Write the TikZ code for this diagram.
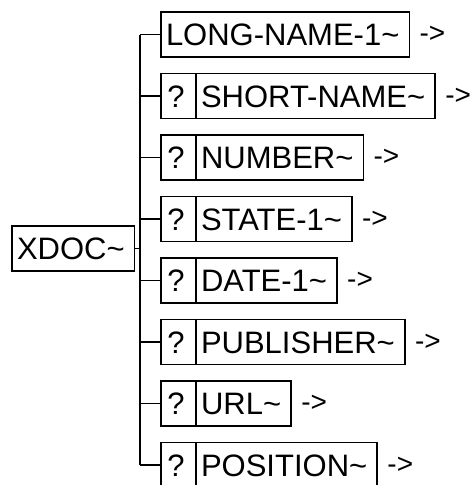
\documentclass[tikz,border=0pt]{standalone}
\usepackage{fontspec}
\setmainfont{Liberation Sans}
\usetikzlibrary{positioning}
\tikzset{
  field/.style={draw, line width=1.5pt, outer sep=0pt, minimum height=45pt, inner xsep=5pt, inner ysep=0pt,
    text height=22.5pt, text depth=0pt, font=\fontsize{31}{37}\selectfont, execute at end node={\hspace{5pt}}},
  optcell/.style={field, minimum width=35pt, inner xsep=0pt, execute at end node={}},
  goto/.style={inner sep=0pt, font=\fontsize{28}{34}\selectfont},
  link/.style={line width=1.5pt},
}

\begin{document}
\begin{tikzpicture}[x=1pt, y=-1pt]
  \useasboundingbox (0,0) rectangle (474,485);
  \clip (0,0) rectangle (474,485);

  % root
  \node[field, anchor=west, execute at end node={}] (xdoc) at (12, 248.5) {XDOC\textasciitilde};
  \coordinate (trunk) at (140, 248.5);

  % children
  \node[field, anchor=west] (longname) at (161, 34.5) {LONG-NAME-1\textasciitilde};
  \node[optcell, anchor=west] (q2) at (161, 96) {?};
  \node[field, right=0pt of q2] (shortname) {SHORT-NAME\textasciitilde};
  \node[optcell, anchor=west] (q3) at (161, 157.5) {?};
  \node[field, right=0pt of q3] (number) {NUMBER\textasciitilde};
  \node[optcell, anchor=west] (q4) at (161, 219) {?};
  \node[field, right=0pt of q4] (state) {STATE-1\textasciitilde};
  \node[optcell, anchor=west] (q5) at (161, 280.5) {?};
  \node[field, right=0pt of q5] (date) {DATE-1\textasciitilde};
  \node[optcell, anchor=west] (q6) at (161, 342) {?};
  \node[field, right=0pt of q6] (publisher) {PUBLISHER\textasciitilde};
  \node[optcell, anchor=west] (q7) at (161, 403.5) {?};
  \node[field, right=0pt of q7] (url) {URL\textasciitilde};
  \node[optcell, anchor=west] (q8) at (161, 465) {?};
  \node[field, right=0pt of q8] (position) {POSITION\textasciitilde};

  % continuation marks
  \node[goto, right=10pt of longname] (g1) {->};
  \node[goto, right=10pt of shortname] (g2) {->};
  \node[goto, right=10pt of number] (g3) {->};
  \node[goto, right=10pt of state] (g4) {->};
  \node[goto, right=10pt of date] (g5) {->};
  \node[goto, right=10pt of publisher] (g6) {->};
  \node[goto, right=10pt of url] (g7) {->};
  \node[goto, right=10pt of position] (g8) {->};

  % tree lines
  \draw[link] (xdoc.east) -- (trunk);
  \draw[link] (trunk |- longname.west) -- (trunk |- q8.west);
  \draw[link] (trunk |- longname.west) -- (longname.west);
  \draw[link] (trunk |- q2.west) -- (q2.west);
  \draw[link] (trunk |- q3.west) -- (q3.west);
  \draw[link] (trunk |- q4.west) -- (q4.west);
  \draw[link] (trunk |- q5.west) -- (q5.west);
  \draw[link] (trunk |- q6.west) -- (q6.west);
  \draw[link] (trunk |- q7.west) -- (q7.west);
  \draw[link] (trunk |- q8.west) -- (q8.west);
\end{tikzpicture}
\end{document}
